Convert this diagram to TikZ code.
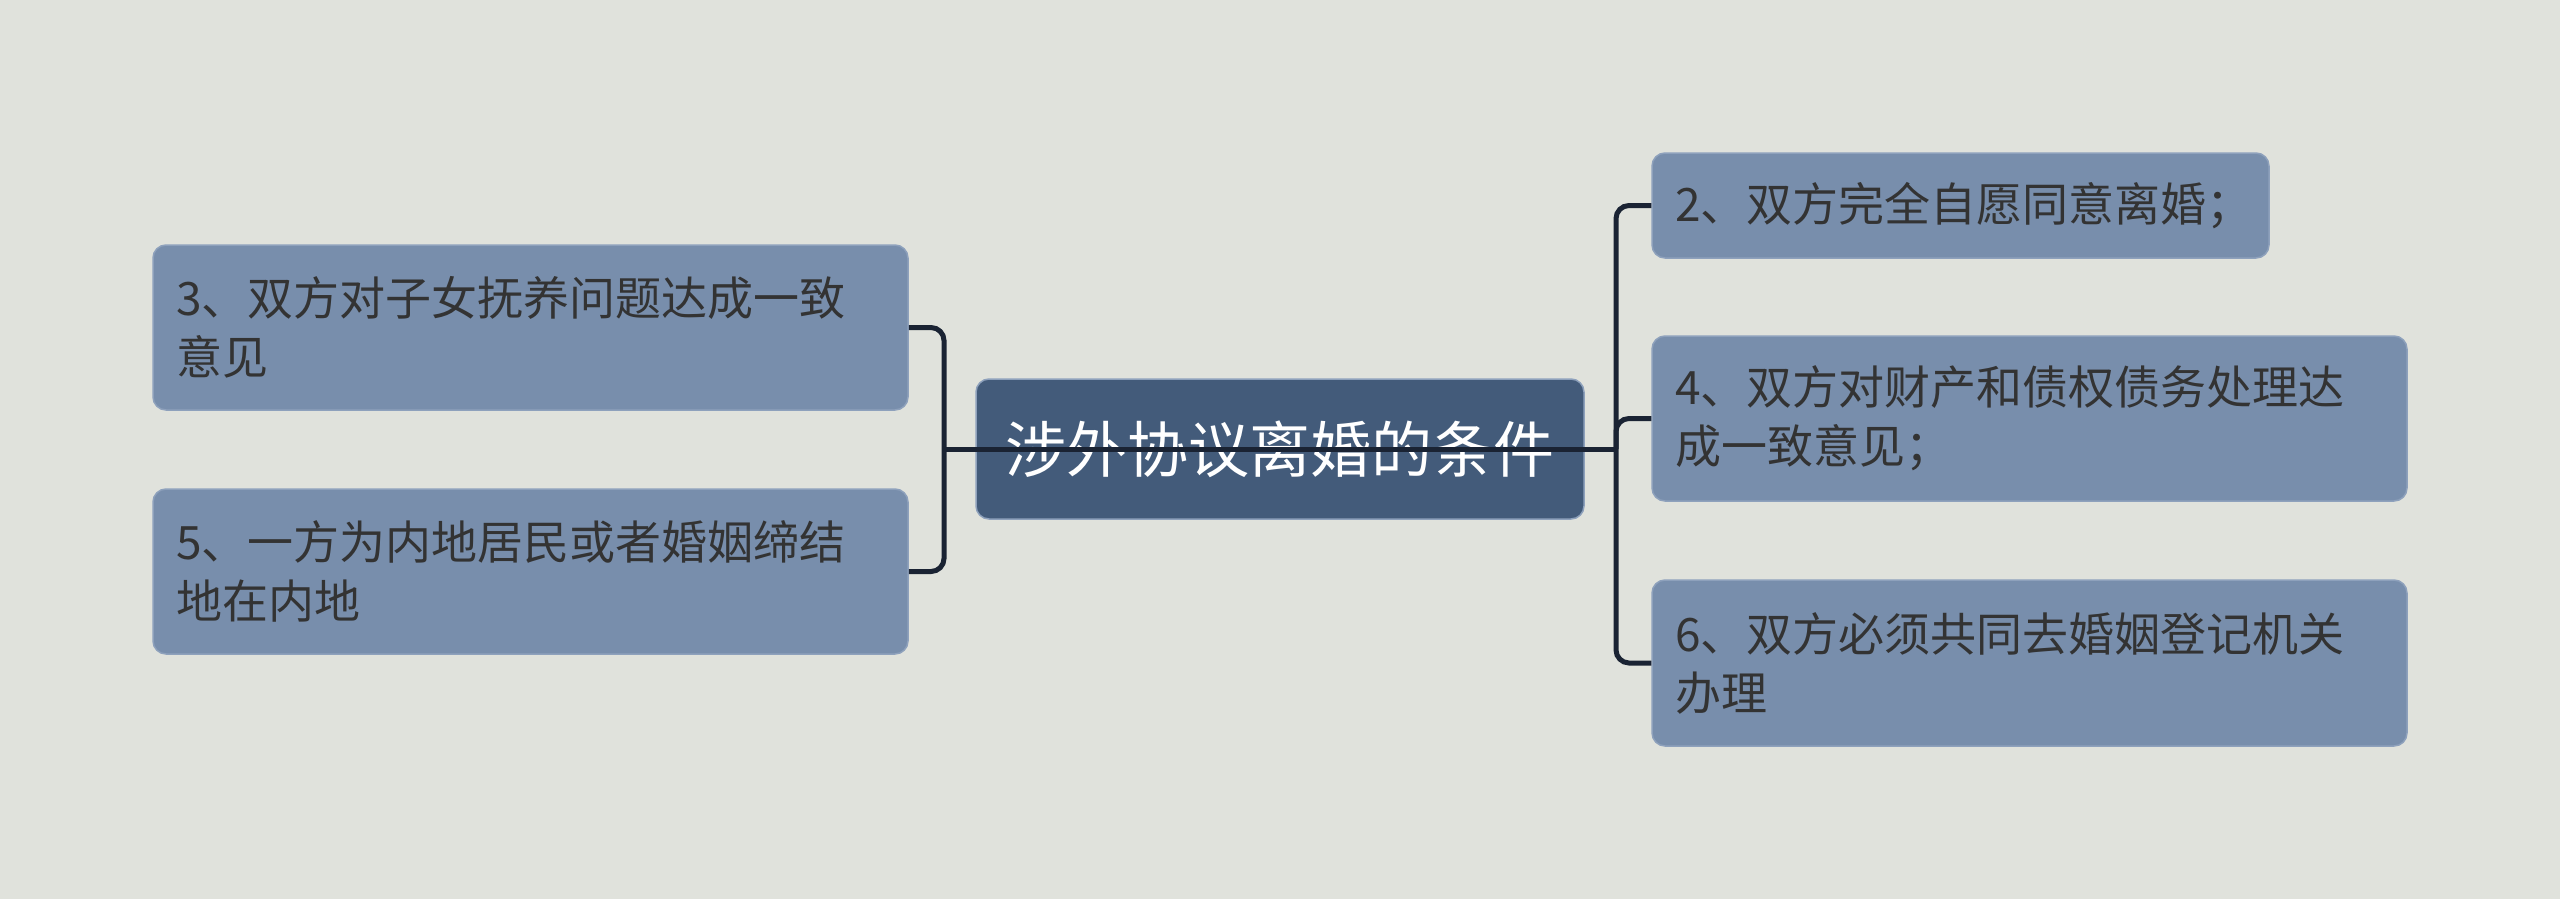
\documentclass[tikz,border=0pt]{standalone}
\usepackage{fontspec}
\setmainfont{Noto Sans CJK SC}
\usetikzlibrary{calc}
\definecolor{bgc}{HTML}{E0E2DC}
\definecolor{leaf}{HTML}{788EAC}
\definecolor{leafedge}{HTML}{8EA1BC}
\definecolor{rootc}{HTML}{435B7A}
\definecolor{txt}{HTML}{333333}
\definecolor{linec}{HTML}{1A2333}
\tikzset{
  leafbox/.style={draw=leafedge, line width=1.5pt, fill=leaf, rounded corners=13pt,
    minimum width=#1, text width=#1-46pt, inner xsep=23pt, inner ysep=0pt,
    align=left, text=txt, font=\fontsize{46pt}{59pt}\selectfont},
  rootbox/.style={draw=leafedge, line width=1.5pt, fill=rootc, rounded corners=13pt,
    minimum width=608pt, minimum height=140pt, text=white,
    font=\fontsize{61pt}{70pt}\selectfont},
  conn/.style={draw=linec, line width=5pt, rounded corners=13pt}
}
\begin{document}
\begin{tikzpicture}[x=1pt,y=-1pt]
\useasboundingbox (0,0) rectangle (2560,899);
\fill[bgc] (0,0) rectangle (2560,899);
\node[leafbox=755pt, minimum height=165pt] (l1) at (530.5,327.5) {3、双方对子女抚养问题达成一致\\意见};
\node[leafbox=755pt, minimum height=165pt] (l2) at (530.5,571.5) {5、一方为内地居民或者婚姻缔结\\地在内地};
\node[leafbox=617pt, minimum height=105pt] (r1) at (1960.5,205.5) {2、双方完全自愿同意离婚；};
\node[leafbox=755pt, minimum height=165pt] (r2) at (2029.5,418.5) {4、双方对财产和债权债务处理达\\成一致意见；};
\node[leafbox=755pt, minimum height=166pt] (r3) at (2029.5,663) {6、双方必须共同去婚姻登记机关\\办理};
\node[rootbox] (c) at (1280,449) {涉外协议离婚的条件};
\coordinate (lb) at (944,449);
\coordinate (rb) at (1616,449);
\draw[conn] (l1.east) -| (lb) |- (l2.east);
\draw[conn] (r1.west) -| (rb) |- (r3.west);
\draw[conn] (rb) |- (r2.west);
\draw[conn] (lb) -- (rb);
\end{tikzpicture}
\end{document}
